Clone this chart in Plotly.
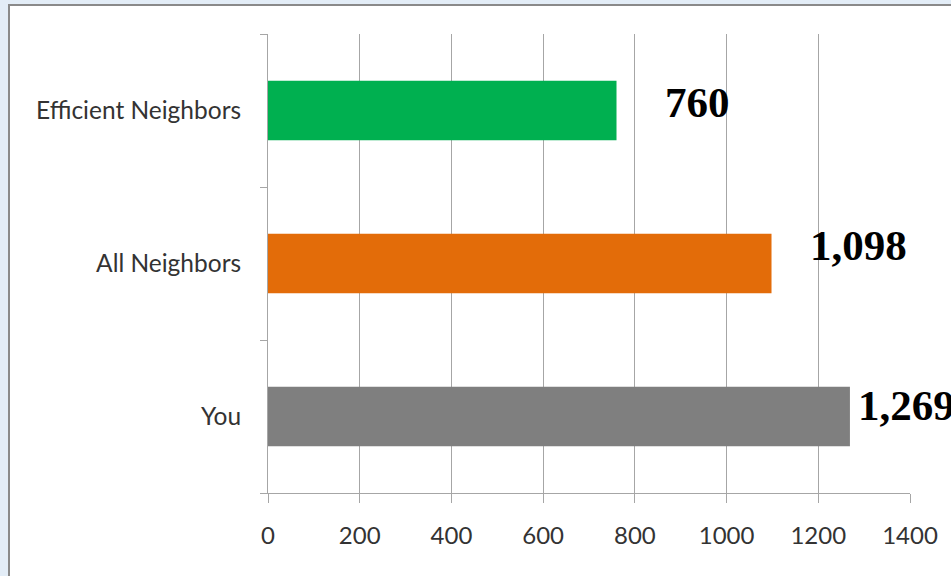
import plotly.graph_objects as go

categories = ["You", "All Neighbors", "Efficient Neighbors"]
values = [1269, 1098, 760]
bar_colors = ["#7f7f7f", "#e36c09", "#00b050"]
x_ticks = [0, 200, 400, 600, 800, 1000, 1200, 1400]

# label offsets (pixels) relative to bar end
label_xshift = [6, 36, 46]
label_yshift = [11, 18, 8]

W, H = 951, 576
ml, mr, mt, mb = 268, 41, 34, 83
pw, ph = W - ml - mr, H - mt - mb

fig = go.Figure()
fig.add_trace(go.Bar(
    y=categories, x=values, orientation="h",
    marker=dict(color=bar_colors, line=dict(width=0)),
    hoverinfo="skip",
))

for c, v, dx, dy in zip(categories, values, label_xshift, label_yshift):
    fig.add_annotation(
        x=v, y=c, xref="x", yref="y", text=f"<b>{v:,}</b>",
        showarrow=False, xanchor="left", yanchor="middle",
        xshift=dx, yshift=dy,
        font=dict(family="Liberation Serif", size=43, color="#000000"),
    )

def px_x(p):
    return (p - ml) / pw

def px_y(p):
    return 1 - (p - mt) / ph

# white panel with grey border on light-blue page
fig.add_shape(type="rect", xref="paper", yref="paper", layer="below",
              x0=px_x(9), x1=px_x(W + 20), y0=px_y(5), y1=px_y(H + 20),
              fillcolor="white", line=dict(color="#8a8a8a", width=2))

fig.update_layout(
    width=W, height=H,
    margin=dict(l=ml, r=mr, t=mt, b=mb),
    paper_bgcolor="#e3edf7",
    plot_bgcolor="rgba(0,0,0,0)",
    bargap=0.61,
    showlegend=False,
    font=dict(family="Lato", color="#333333"),
    xaxis=dict(
        range=[0, 1400], tickvals=x_ticks, ticktext=[str(t) for t in x_ticks],
        showgrid=True, gridcolor="#a6a6a6", gridwidth=1,
        showline=True, linecolor="#a6a6a6", linewidth=1,
        ticks="outside", ticklen=9, tickcolor="#a6a6a6",
        zeroline=False, tickfont=dict(size=24, color="#333333"),
        ticklabelstandoff=12, fixedrange=True,
    ),
    yaxis=dict(
        categoryorder="array", categoryarray=categories,
        showgrid=False, zeroline=False,
        showline=True, linecolor="#a6a6a6", linewidth=1,
        ticks="outside", ticklen=7, tickcolor="#a6a6a6", tickson="boundaries",
        tickfont=dict(size=24.5, color="#333333"),
        ticklabelstandoff=21, fixedrange=True,
    ),
)

fig.write_html(
    "out.html",
    config={"displayModeBar": False},
    post_script="document.body.style.margin='0';document.body.style.overflow='hidden';",
)
